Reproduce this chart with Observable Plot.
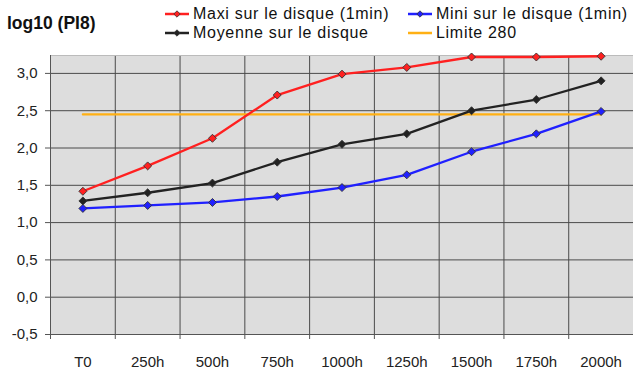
<!DOCTYPE html>
<html><head><meta charset="utf-8">
<script src="https://cdn.jsdelivr.net/npm/d3@7"></script>
<script src="https://cdn.jsdelivr.net/npm/@observablehq/plot@0.6"></script>
<style>
body{margin:0;background:#fff;font-family:"Liberation Sans",Arial,sans-serif;}
#wrap{position:relative;width:633px;height:372px;overflow:hidden;background:#fff}
#head{position:relative;height:50px}
.t{position:absolute;white-space:nowrap;color:#111}
#title{left:7px;top:12px;font-weight:bold;font-size:17.5px;line-height:22px}
.lg{position:absolute;white-space:nowrap;font-size:16px;letter-spacing:0.7px;line-height:16px;height:16px;color:#111;display:flex;align-items:center}
.lg svg{margin-right:4px}
</style></head><body>
<div id="wrap">
  <div id="head">
    <div class="t" id="title">log10 (PI8)</div>
  </div>
  <div id="chart"></div>
</div>
<script>
const categories = ["T0","250h","500h","750h","1000h","1250h","1500h","1750h","2000h"];
const maxi    = [1.42, 1.76, 2.13, 2.71, 2.99, 3.08, 3.22, 3.22, 3.23];
const moyenne = [1.29, 1.40, 1.53, 1.81, 2.05, 2.19, 2.50, 2.65, 2.90];
const mini    = [1.19, 1.23, 1.27, 1.35, 1.47, 1.64, 1.95, 2.19, 2.49];
const limite  = [2.45, 2.45, 2.45, 2.45, 2.45, 2.45, 2.45, 2.45, 2.45];
const seriesNames = ["Maxi sur le disque (1min)", "Mini sur le disque (1min)", "Moyenne sur le disque", "Limite 280"];
const seriesColors = ["#ff2020", "#2020ff", "#222222", "#ffb014"];
const yTicks = [-0.5, 0, 0.5, 1, 1.5, 2, 2.5, 3];

const series = [
  {name: seriesNames[0], values: maxi, color: seriesColors[0], marker: true},
  {name: seriesNames[1], values: mini, color: seriesColors[1], marker: true},
  {name: seriesNames[2], values: moyenne, color: seriesColors[2], marker: true},
  {name: seriesNames[3], values: limite, color: seriesColors[3], marker: false}
];
const rows = series.flatMap(s => s.values.map((v, i) => ({i, v, series: s.name, color: s.color, marker: s.marker})));
const lineOrder = [seriesNames[3], seriesNames[1], seriesNames[2], seriesNames[0]];
const edges = categories.map((_, i) => i - 0.5).concat([categories.length - 0.5]);
const inner = edges.slice(1);
const fmt = v => v.toFixed(1).replace(".", ",");

// legend
const head = document.getElementById("head");
const legendPos = [
  {left: 165, top: 6}, {left: 408, top: 6}, {left: 165, top: 25}, {left: 408, top: 25}
];
[0, 1, 2, 3].forEach((k, j) => {
  const s = series[k];
  const d = document.createElement("div");
  d.className = "lg";
  d.style.left = legendPos[j].left + "px";
  d.style.top = legendPos[j].top + "px";
  const w = 24;
  d.innerHTML = `<svg width="${w}" height="10"><line x1="0" x2="${w}" y1="5" y2="5" stroke="${s.color}" stroke-width="2.5"/>` +
    (s.marker ? `<path d="M${w/2},1.8L${w/2+3.2},5L${w/2},8.2L${w/2-3.2},5Z" fill="${s.color}" stroke="#333" stroke-width="0.8"/>` : "") +
    `</svg><span>${s.name}</span>`;
  head.appendChild(d);
});

const chart = Plot.plot({
  width: 633,
  height: 322,
  marginTop: 5,
  marginLeft: 50,
  marginRight: 0,
  marginBottom: 38,
  style: {fontFamily: '"Liberation Sans", Arial, sans-serif', fontSize: "15px", color: "#222", background: "transparent"},
  x: {domain: [-0.5, categories.length - 0.5], axis: null, label: null},
  y: {domain: [-0.5, 3.24], axis: null, label: null},
  marks: [
    Plot.frame({fill: "#dddddd", stroke: null}),
    Plot.gridY(yTicks, {stroke: "#4a4a4a", strokeOpacity: 1, strokeWidth: 1}),
    Plot.gridX(inner, {stroke: "#4a4a4a", strokeOpacity: 1, strokeWidth: 1}),
    Plot.frame({anchor: "top", stroke: "#bbbbbb"}),
    Plot.frame({anchor: "left", stroke: "#555"}),
    Plot.frame({anchor: "bottom", stroke: "#555"}),
    Plot.axisY(yTicks, {tickSize: 5, tickPadding: 8, tickFormat: fmt, stroke: "#555", fill: "#222", label: null}),
    Plot.axisX(edges, {tickSize: 5, tickFormat: () => "", stroke: "#555", label: null}),
    Plot.axisX(categories.map((_, i) => i), {tickSize: 0, tickPadding: 22, tickFormat: i => categories[i], fill: "#222", label: null}),
    ...lineOrder.map(n => Plot.line(rows.filter(r => r.series === n), {x: "i", y: "v", stroke: "color", strokeWidth: 2.3, curve: "linear"})),
    Plot.dot(rows.filter(r => r.marker), {x: "i", y: "v", symbol: "diamond2", r: 3.6, fill: "color", stroke: "#333", strokeWidth: 0.9})
  ]
});
document.getElementById("chart").appendChild(chart);
</script>
</body></html>
